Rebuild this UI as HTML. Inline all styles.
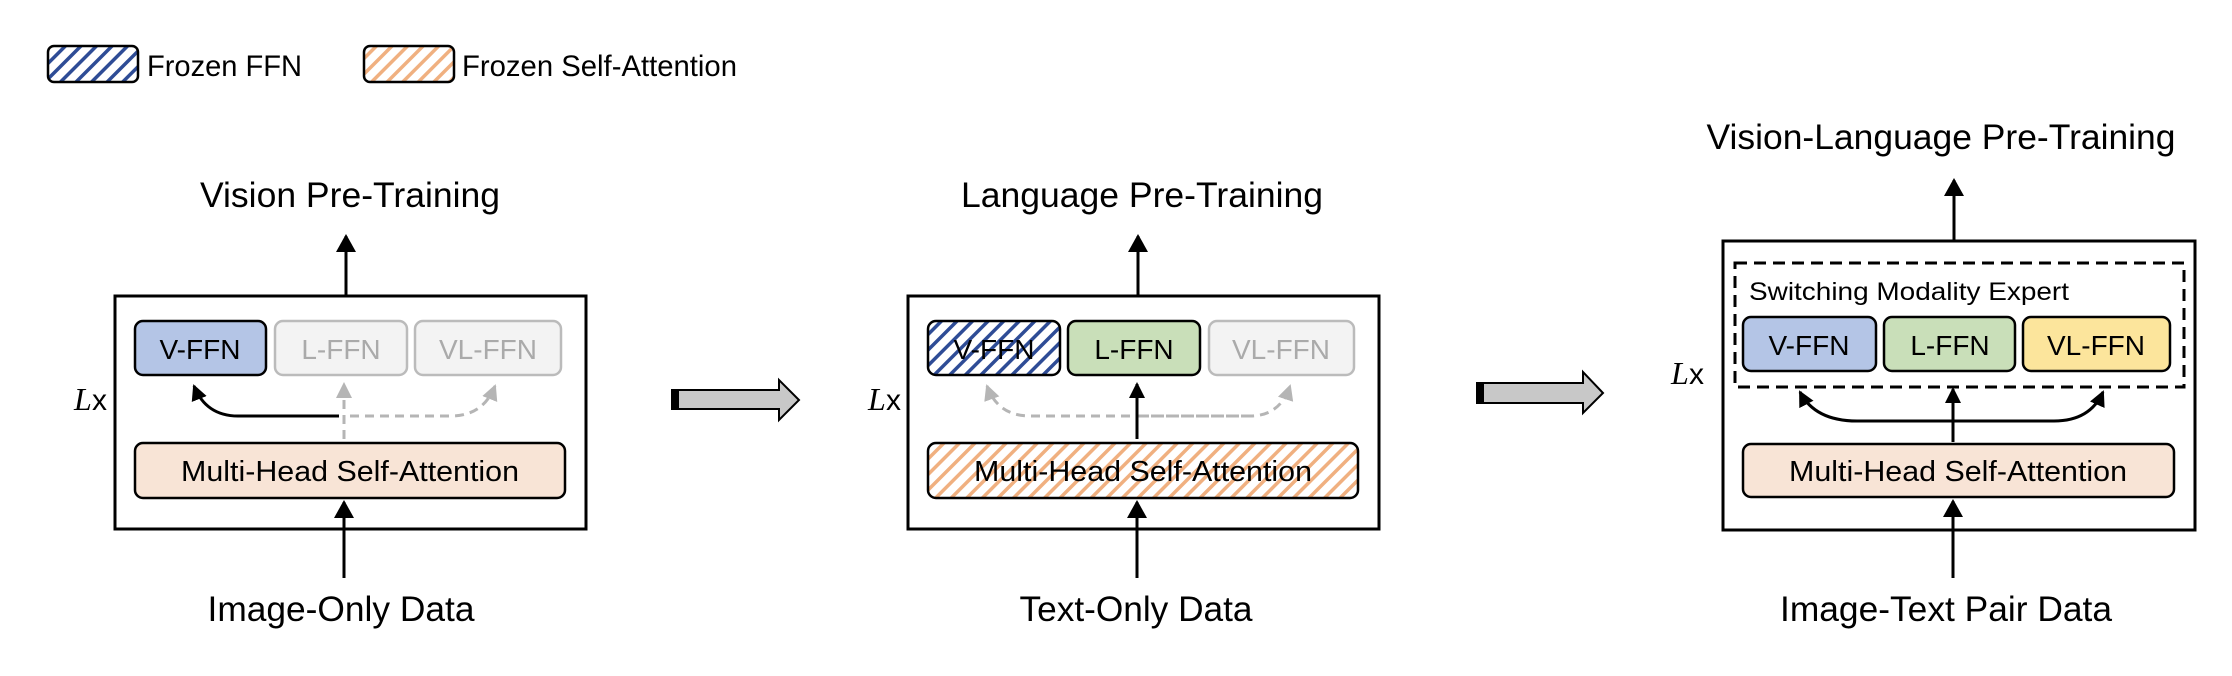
<!DOCTYPE html>
<html><head><meta charset="utf-8"><style>html,body{margin:0;padding:0;background:#fff}svg{display:block}</style></head>
<body>
<svg width="2232" height="676" viewBox="0 0 2232 676" xmlns="http://www.w3.org/2000/svg" font-family="Liberation Sans, Arial, sans-serif">
<defs>
<pattern id="hb" width="11" height="11" patternUnits="userSpaceOnUse" patternTransform="rotate(45)">
<rect width="11" height="11" fill="#fff"/><rect width="3.5" height="11" fill="#2e4c96"/></pattern>
<pattern id="ho" width="11" height="11" patternUnits="userSpaceOnUse" patternTransform="rotate(45)">
<rect width="11" height="11" fill="#fff"/><rect width="3.5" height="11" fill="#f0b080"/></pattern>
<marker id="ab" markerWidth="16" markerHeight="16" refX="14" refY="8" orient="auto" markerUnits="userSpaceOnUse" viewBox="0 0 16 16"><path d="M0,0 L16,8 L0,16 z" fill="#000"/></marker>
<marker id="ag" markerWidth="16" markerHeight="16" refX="14" refY="8" orient="auto" viewBox="0 0 16 16" markerUnits="userSpaceOnUse"><path d="M0,0 L16,8 L0,16 z" fill="#b5b5b5"/></marker>
<marker id="AB" markerWidth="18" markerHeight="20" refX="16" refY="10" orient="auto" markerUnits="userSpaceOnUse" viewBox="0 0 18 20"><path d="M0,0 L18,10 L0,20 z" fill="#000"/></marker>
</defs>

<!-- legend -->
<rect x="48" y="46" width="90" height="36" rx="6" fill="url(#hb)" stroke="#000" stroke-width="2.5"/>
<text x="147" y="76" font-size="30" textLength="155" lengthAdjust="spacingAndGlyphs">Frozen FFN</text>
<rect x="364" y="46" width="90" height="36" rx="6" fill="url(#ho)" stroke="#000" stroke-width="2.5"/>
<text x="462" y="76" font-size="30" textLength="275" lengthAdjust="spacingAndGlyphs">Frozen Self-Attention</text>

<!-- Panel 1 -->
<text x="350" y="207" font-size="35" text-anchor="middle" textLength="300" lengthAdjust="spacingAndGlyphs">Vision Pre-Training</text>
<line x1="346" y1="296" x2="346" y2="236" stroke="#000" stroke-width="3" marker-end="url(#AB)"/>
<rect x="115" y="296" width="471" height="233" fill="#fff" stroke="#000" stroke-width="3"/>
<text x="74" y="410" font-size="32" font-family="Liberation Serif, serif" font-style="italic">L</text><text x="92" y="410" font-size="30">x</text>
<rect x="135" y="321" width="131" height="54" rx="8" fill="#b4c5e6" stroke="#000" stroke-width="2.5"/>
<text x="200" y="359" font-size="28" text-anchor="middle">V-FFN</text>
<rect x="275" y="321" width="132" height="54" rx="8" fill="#f3f3f3" stroke="#bbb" stroke-width="2.5"/>
<text x="341" y="359" font-size="28" text-anchor="middle" fill="#aaa">L-FFN</text>
<rect x="415" y="321" width="146" height="54" rx="8" fill="#f3f3f3" stroke="#bbb" stroke-width="2.5"/>
<text x="488" y="359" font-size="28" text-anchor="middle" fill="#aaa">VL-FFN</text>
<path d="M339,416 L238,416 Q206,416 194,386" fill="none" stroke="#000" stroke-width="3" marker-end="url(#ab)"/>
<line x1="344" y1="439" x2="344" y2="384" stroke="#b5b5b5" stroke-width="3" stroke-dasharray="9,6" marker-end="url(#ag)"/>
<path d="M350,416 L451,416 Q483,416 495,386" fill="none" stroke="#b5b5b5" stroke-width="3" stroke-dasharray="9,6" marker-end="url(#ag)"/>
<rect x="135" y="443" width="430" height="55" rx="8" fill="#f8e4d6" stroke="#000" stroke-width="2.5"/>
<text x="350" y="481" font-size="29" text-anchor="middle" textLength="338" lengthAdjust="spacingAndGlyphs">Multi-Head Self-Attention</text>
<line x1="344" y1="578" x2="344" y2="502" stroke="#000" stroke-width="3" marker-end="url(#AB)"/>
<text x="341" y="621" font-size="35" text-anchor="middle" textLength="267" lengthAdjust="spacingAndGlyphs">Image-Only Data</text>

<!-- big arrow 1 -->
<path d="M672,390 L779,390 L779,380 L799,400 L779,420 L779,409 L672,409 z" fill="#c8c8c8" stroke="#000" stroke-width="2"/>
<rect x="672" y="390" width="7" height="19" fill="#000"/>

<!-- Panel 2 -->
<text x="1142" y="207" font-size="35" text-anchor="middle" textLength="362" lengthAdjust="spacingAndGlyphs">Language Pre-Training</text>
<line x1="1138" y1="296" x2="1138" y2="236" stroke="#000" stroke-width="3" marker-end="url(#AB)"/>
<rect x="908" y="296" width="471" height="233" fill="#fff" stroke="#000" stroke-width="3"/>
<text x="868" y="410" font-size="32" font-family="Liberation Serif, serif" font-style="italic">L</text><text x="886" y="410" font-size="30">x</text>
<rect x="928" y="321" width="132" height="54" rx="8" fill="url(#hb)" stroke="#000" stroke-width="2.5"/>
<text x="994" y="359" font-size="28" text-anchor="middle">V-FFN</text>
<rect x="1068" y="321" width="132" height="54" rx="8" fill="#c9dfb9" stroke="#000" stroke-width="2.5"/>
<text x="1134" y="359" font-size="28" text-anchor="middle">L-FFN</text>
<rect x="1209" y="321" width="145" height="54" rx="8" fill="#f3f3f3" stroke="#bbb" stroke-width="2.5"/>
<text x="1281" y="359" font-size="28" text-anchor="middle" fill="#aaa">VL-FFN</text>
<path d="M1250,416 L1030,416 Q998,416 987,386" fill="none" stroke="#b5b5b5" stroke-width="3" stroke-dasharray="9,6" marker-end="url(#ag)"/>
<path d="M1140,416 L1250,416 Q1280,416 1290,386" fill="none" stroke="#b5b5b5" stroke-width="3" stroke-dasharray="9,6" marker-end="url(#ag)"/>
<line x1="1137" y1="439" x2="1137" y2="384" stroke="#000" stroke-width="3" marker-end="url(#ab)"/>
<rect x="928" y="443" width="430" height="55" rx="8" fill="url(#ho)" stroke="#000" stroke-width="2.5"/>
<text x="1143" y="481" font-size="29" text-anchor="middle" textLength="338" lengthAdjust="spacingAndGlyphs">Multi-Head Self-Attention</text>
<line x1="1137" y1="578" x2="1137" y2="502" stroke="#000" stroke-width="3" marker-end="url(#AB)"/>
<text x="1136" y="621" font-size="35" text-anchor="middle" textLength="233" lengthAdjust="spacingAndGlyphs">Text-Only Data</text>

<!-- big arrow 2 -->
<path d="M1477,383 L1583,383 L1583,372 L1603,393 L1583,413 L1583,403 L1477,403 z" fill="#c8c8c8" stroke="#000" stroke-width="2"/>
<rect x="1477" y="383" width="7" height="20" fill="#000"/>

<!-- Panel 3 -->
<text x="1941" y="149" font-size="35" text-anchor="middle" textLength="469" lengthAdjust="spacingAndGlyphs">Vision-Language Pre-Training</text>
<line x1="1954" y1="241" x2="1954" y2="180" stroke="#000" stroke-width="3" marker-end="url(#AB)"/>
<rect x="1723" y="241" width="472" height="289" fill="#fff" stroke="#000" stroke-width="3"/>
<rect x="1735" y="263" width="449" height="124" fill="none" stroke="#000" stroke-width="3" stroke-dasharray="12,7"/>
<text x="1749" y="300" font-size="25" textLength="320" lengthAdjust="spacingAndGlyphs">Switching Modality Expert</text>
<text x="1671" y="384" font-size="32" font-family="Liberation Serif, serif" font-style="italic">L</text><text x="1689" y="384" font-size="30">x</text>
<rect x="1743" y="317" width="133" height="54" rx="8" fill="#b4c5e6" stroke="#000" stroke-width="2.5"/>
<text x="1809" y="355" font-size="28" text-anchor="middle">V-FFN</text>
<rect x="1884" y="317" width="131" height="54" rx="8" fill="#c9dfb9" stroke="#000" stroke-width="2.5"/>
<text x="1950" y="355" font-size="28" text-anchor="middle">L-FFN</text>
<rect x="2023" y="317" width="147" height="54" rx="8" fill="#fce59c" stroke="#000" stroke-width="2.5"/>
<text x="2096" y="355" font-size="28" text-anchor="middle">VL-FFN</text>
<path d="M1955,421 L1857,421 Q1815,421 1800,392" fill="none" stroke="#000" stroke-width="3" marker-end="url(#ab)"/>
<path d="M1951,421 L2054,421 Q2090,421 2103,392" fill="none" stroke="#000" stroke-width="3" marker-end="url(#ab)"/>
<line x1="1953" y1="442" x2="1953" y2="389" stroke="#000" stroke-width="3" marker-end="url(#ab)"/>
<rect x="1743" y="444" width="431" height="53" rx="8" fill="#f8e4d6" stroke="#000" stroke-width="2.5"/>
<text x="1958" y="481" font-size="29" text-anchor="middle" textLength="338" lengthAdjust="spacingAndGlyphs">Multi-Head Self-Attention</text>
<line x1="1953" y1="578" x2="1953" y2="501" stroke="#000" stroke-width="3" marker-end="url(#AB)"/>
<text x="1946" y="621" font-size="35" text-anchor="middle" textLength="332" lengthAdjust="spacingAndGlyphs">Image-Text Pair Data</text>
</svg>
</body></html>
